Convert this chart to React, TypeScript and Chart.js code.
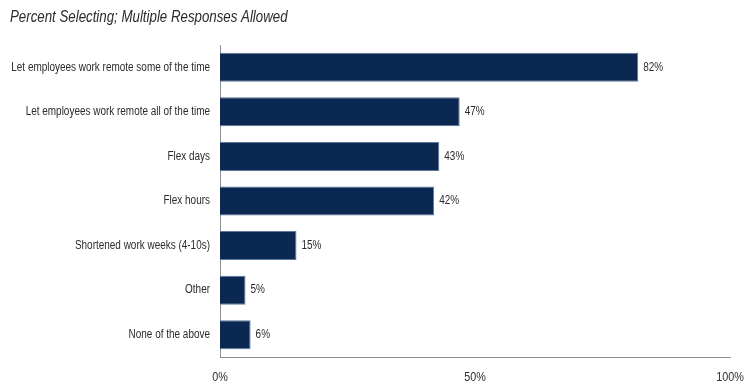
import React, { useEffect, useRef } from "react";
import { Chart, registerables } from "chart.js";

Chart.register(...registerables);

const categories = [
  "Let employees work remote some of the time",
  "Let employees work remote all of the time",
  "Flex days",
  "Flex hours",
  "Shortened work weeks (4-10s)",
  "Other",
  "None of the above",
];
const values = [82, 47, 43, 42, 15, 5, 6];
const xTicks = [0, 50, 100];
const titleText = "Percent Selecting; Multiple Responses Allowed";

const FONT = "'Liberation Sans', Arial, sans-serif";
const NARROW = 0.83;

function narrowText(ctx: any, text: string, x: number, y: number, align: string) {
  ctx.save();
  ctx.translate(x, y);
  ctx.scale(NARROW, 1);
  ctx.textAlign = align;
  ctx.fillText(text, 0, 0);
  ctx.restore();
}

const narrowLabels = {
  id: "narrowLabels",
  afterDraw(chart: any) {
    const ctx = chart.ctx;
    const area = chart.chartArea;
    const meta = chart.getDatasetMeta(0);
    const xs = chart.scales.x;
    const ys = chart.scales.y;
    ctx.save();
    ctx.fillStyle = "#2b2b2b";
    ctx.textBaseline = "middle";
    // title
    ctx.font = `italic 16px ${FONT}`;
    narrowText(ctx, titleText, 10, 18, "left");
    ctx.font = `12px ${FONT}`;
    // category labels
    categories.forEach((c, i) => {
      narrowText(ctx, c, area.left - 10, ys.getPixelForValue(i), "right");
    });
    // value labels
    meta.data.forEach((bar: any, i: number) => {
      narrowText(ctx, `${values[i]}%`, bar.x + 5, bar.y, "left");
    });
    // x tick labels
    ctx.font = `13px ${FONT}`;
    xTicks.forEach((v) => {
      narrowText(ctx, `${v}%`, xs.getPixelForValue(v), area.bottom + 20, "center");
    });
    ctx.restore();
  },
};

export default function App() {
  const ref = useRef<HTMLCanvasElement | null>(null);
  useEffect(() => {
    document.body.style.margin = "0";
    const chart = new Chart(ref.current as HTMLCanvasElement, {
      type: "bar",
      data: {
        labels: categories,
        datasets: [
          {
            data: values,
            backgroundColor: "#0b2852",
            borderColor: "#5f779c",
            borderWidth: 1,
            barPercentage: 0.65,
            categoryPercentage: 1,
          },
        ],
      },
      options: {
        indexAxis: "y",
        animation: false,
        responsive: false,
        maintainAspectRatio: false,
        layout: { padding: { left: 10, right: 14, top: 45, bottom: 26 } },
        plugins: {
          legend: { display: false },
          tooltip: { enabled: false },
          title: { display: false },
        },
        scales: {
          x: {
            min: 0,
            max: 100,
            afterBuildTicks: (axis: any) => {
              axis.ticks = xTicks.map((v) => ({ value: v }));
            },
            grid: { display: false, drawTicks: false },
            border: { display: true, color: "#8a9090", width: 1 },
            ticks: { display: false },
          },
          y: {
            grid: { display: false, drawTicks: false },
            border: { display: true, color: "#8a9090", width: 1 },
            afterFit: (axis: any) => {
              axis.width = 210;
            },
            ticks: { display: false },
          },
        },
      },
      plugins: [narrowLabels],
    });
    return () => chart.destroy();
  }, []);
  return (
    <div style={{ position: "relative", width: 744, height: 383 }}>
      <canvas ref={ref} width={744} height={383} style={{ display: "block" }} />
    </div>
  );
}
